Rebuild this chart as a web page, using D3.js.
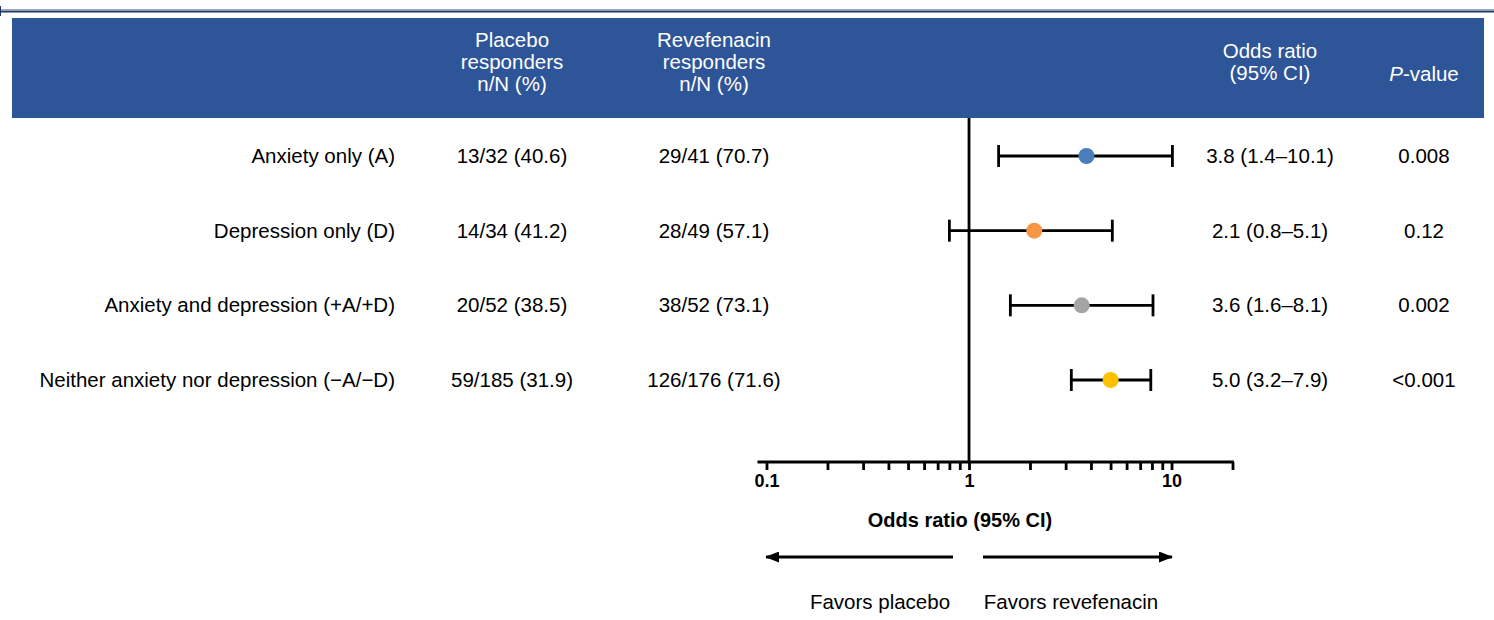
<!DOCTYPE html>
<html>
<head>
<meta charset="utf-8">
<script src="https://cdn.jsdelivr.net/npm/d3@7"></script>
<style>
  body { margin: 0; background: #fff; }
  svg { display: block; font-family: Arial, "Liberation Sans", sans-serif; }
</style>
</head>
<body>
<div id="chart"></div>
<script>
// subgroup data
const subgroups = ["Anxiety only (A)", "Depression only (D)", "Anxiety and depression (+A/+D)", "Neither anxiety nor depression (\u2212A/\u2212D)"];
const placebo = ["13/32 (40.6)", "14/34 (41.2)", "20/52 (38.5)", "59/185 (31.9)"];
const revefenacin = ["29/41 (70.7)", "28/49 (57.1)", "38/52 (73.1)", "126/176 (71.6)"];
const oddsRatio = [3.8, 2.1, 3.6, 5.0];
const ciLow = [1.4, 0.8, 1.6, 3.2];
const ciHigh = [10.1, 5.1, 8.1, 7.9];
const pValues = ["0.008", "0.12", "0.002", "<0.001"];
const dotColors = ["#4a7ebb", "#f79646", "#a5a5a5", "#ffc000"];
const majorTicks = [0.1, 1, 10];

const width = 1494, height = 620;
const fs = 20.5;

const svg = d3.select("#chart")
    .append("svg")
    .attr("width", width)
    .attr("height", height);

// top rule (double line)
svg.append("line").attr("x1", 0).attr("x2", width).attr("y1", 9.5).attr("y2", 9.5)
    .attr("stroke", "#9aa8c0").attr("stroke-width", 1);
svg.append("line").attr("x1", 0).attr("x2", width).attr("y1", 11.5).attr("y2", 11.5)
    .attr("stroke", "#1f3864").attr("stroke-width", 2);
svg.append("line").attr("x1", 0.5).attr("x2", 0.5).attr("y1", 6).attr("y2", 16)
    .attr("stroke", "#1f3864").attr("stroke-width", 1);

// header band
svg.append("rect")
    .attr("x", 12).attr("y", 18)
    .attr("width", 1472).attr("height", 100)
    .attr("fill", "#2e5597");

const header = svg.append("g")
    .attr("fill", "#fff")
    .attr("font-size", fs)
    .attr("text-anchor", "middle");

const headerCols = [
    { x: 512, y: 40, lines: ["Placebo", "responders", "n/N (%)"] },
    { x: 714, y: 40, lines: ["Revefenacin", "responders", "n/N (%)"] },
    { x: 1270, y: 51, lines: ["Odds ratio", "(95% CI)"] }
];
headerCols.forEach(c => {
    const t = header.append("text").attr("x", c.x).attr("y", c.y + 7);
    c.lines.forEach((l, i) => {
        t.append("tspan").attr("x", c.x).attr("dy", i === 0 ? 0 : 22).text(l);
    });
});
const pv = header.append("text").attr("x", 1424).attr("y", 81);
pv.append("tspan").attr("font-style", "italic").text("P");
pv.append("tspan").text("-value");

// scales
const x = d3.scaleLog().domain([0.1, 20]).range([766.5, 1232.5]);
const y = d3.scalePoint().domain(subgroups).range([156, 380]);

// table text
const rows = svg.append("g").attr("font-size", fs).attr("fill", "#000");
rows.selectAll(".label").data(subgroups).enter().append("text")
    .attr("x", 395).attr("y", d => y(d) + 7)
    .attr("text-anchor", "end")
    .text(d => d);
rows.selectAll(".plc").data(subgroups).enter().append("text")
    .attr("x", 512).attr("y", d => y(d) + 7)
    .attr("text-anchor", "middle")
    .text((d, i) => placebo[i]);
rows.selectAll(".rev").data(subgroups).enter().append("text")
    .attr("x", 714).attr("y", d => y(d) + 7)
    .attr("text-anchor", "middle")
    .text((d, i) => revefenacin[i]);
rows.selectAll(".or").data(subgroups).enter().append("text")
    .attr("x", 1270).attr("y", d => y(d) + 7)
    .attr("text-anchor", "middle")
    .text((d, i) => oddsRatio[i].toFixed(1) + " (" + ciLow[i].toFixed(1) + "\u2013" + ciHigh[i].toFixed(1) + ")");
rows.selectAll(".pv").data(subgroups).enter().append("text")
    .attr("x", 1424).attr("y", d => y(d) + 7)
    .attr("text-anchor", "middle")
    .text((d, i) => pValues[i]);

// axis
const axisY = 462;
const minorTicks = [];
[0.1, 1, 10].forEach(b => { for (let k = 1; k <= 9; k++) minorTicks.push(+(b * k).toPrecision(3)); });
minorTicks.splice(minorTicks.indexOf(20) + 1);
const axis = d3.axisBottom(x)
    .tickValues(minorTicks)
    .tickSize(8)
    .tickSizeOuter(0)
    .tickFormat(d => majorTicks.includes(d) ? d3.format("~g")(d) : "");
const ax = svg.append("g")
    .attr("transform", "translate(0," + axisY + ")")
    .call(axis);
ax.select(".domain").attr("stroke", "#000").attr("stroke-width", 2.8)
    .attr("d", "M" + (x(0.1) - 9) + ",0H" + (x(20) + 1.4));
ax.selectAll(".tick line").attr("stroke", "#000").attr("stroke-width", 2.8);
ax.selectAll(".tick text")
    .attr("font-size", 18).attr("font-weight", "bold")
    .attr("font-family", "Arial, 'Liberation Sans', sans-serif")
    .attr("fill", "#000").attr("dy", 0).attr("y", 25);

// reference line at OR = 1
svg.append("line")
    .attr("x1", x(1)).attr("x2", x(1))
    .attr("y1", 118).attr("y2", axisY)
    .attr("stroke", "#000").attr("stroke-width", 2.8);

// CI lines and caps
const ci = svg.append("g").attr("stroke", "#000").attr("stroke-width", 2.8);
ci.selectAll(".ci").data(subgroups).enter().append("line")
    .attr("x1", (d, i) => x(ciLow[i])).attr("x2", (d, i) => x(ciHigh[i]))
    .attr("y1", d => y(d)).attr("y2", d => y(d));
ci.selectAll(".capl").data(subgroups).enter().append("line")
    .attr("x1", (d, i) => x(ciLow[i])).attr("x2", (d, i) => x(ciLow[i]))
    .attr("y1", d => y(d) - 11).attr("y2", d => y(d) + 11);
ci.selectAll(".caph").data(subgroups).enter().append("line")
    .attr("x1", (d, i) => x(ciHigh[i])).attr("x2", (d, i) => x(ciHigh[i]))
    .attr("y1", d => y(d) - 11).attr("y2", d => y(d) + 11);

svg.selectAll(".dot").data(subgroups).enter().append("circle")
    .attr("cx", (d, i) => x(oddsRatio[i]))
    .attr("cy", d => y(d))
    .attr("r", 8)
    .attr("fill", (d, i) => dotColors[i]);

// axis title
svg.append("text")
    .attr("x", 960).attr("y", 527)
    .attr("text-anchor", "middle")
    .attr("font-size", 20).attr("font-weight", "bold")
    .text("Odds ratio (95% CI)");

// direction arrows
const defs = svg.append("defs");
defs.append("marker")
    .attr("id", "arrow")
    .attr("viewBox", "0 0 14 11")
    .attr("refX", 13).attr("refY", 5.5)
    .attr("markerWidth", 14).attr("markerHeight", 11)
    .attr("markerUnits", "userSpaceOnUse")
    .attr("orient", "auto")
    .append("path").attr("d", "M0,0L14,5.5L0,11z").attr("fill", "#000");

const arrowY = 557;
svg.append("line")
    .attr("x1", 953).attr("x2", 766)
    .attr("y1", arrowY).attr("y2", arrowY)
    .attr("stroke", "#000").attr("stroke-width", 2.8)
    .attr("marker-end", "url(#arrow)");
svg.append("line")
    .attr("x1", 983).attr("x2", 1172)
    .attr("y1", arrowY).attr("y2", arrowY)
    .attr("stroke", "#000").attr("stroke-width", 2.8)
    .attr("marker-end", "url(#arrow)");

svg.append("text").attr("x", 880).attr("y", 609)
    .attr("text-anchor", "middle").attr("font-size", fs)
    .text("Favors placebo");
svg.append("text").attr("x", 1071).attr("y", 609)
    .attr("text-anchor", "middle").attr("font-size", fs)
    .text("Favors revefenacin");
</script>
</body>
</html>
